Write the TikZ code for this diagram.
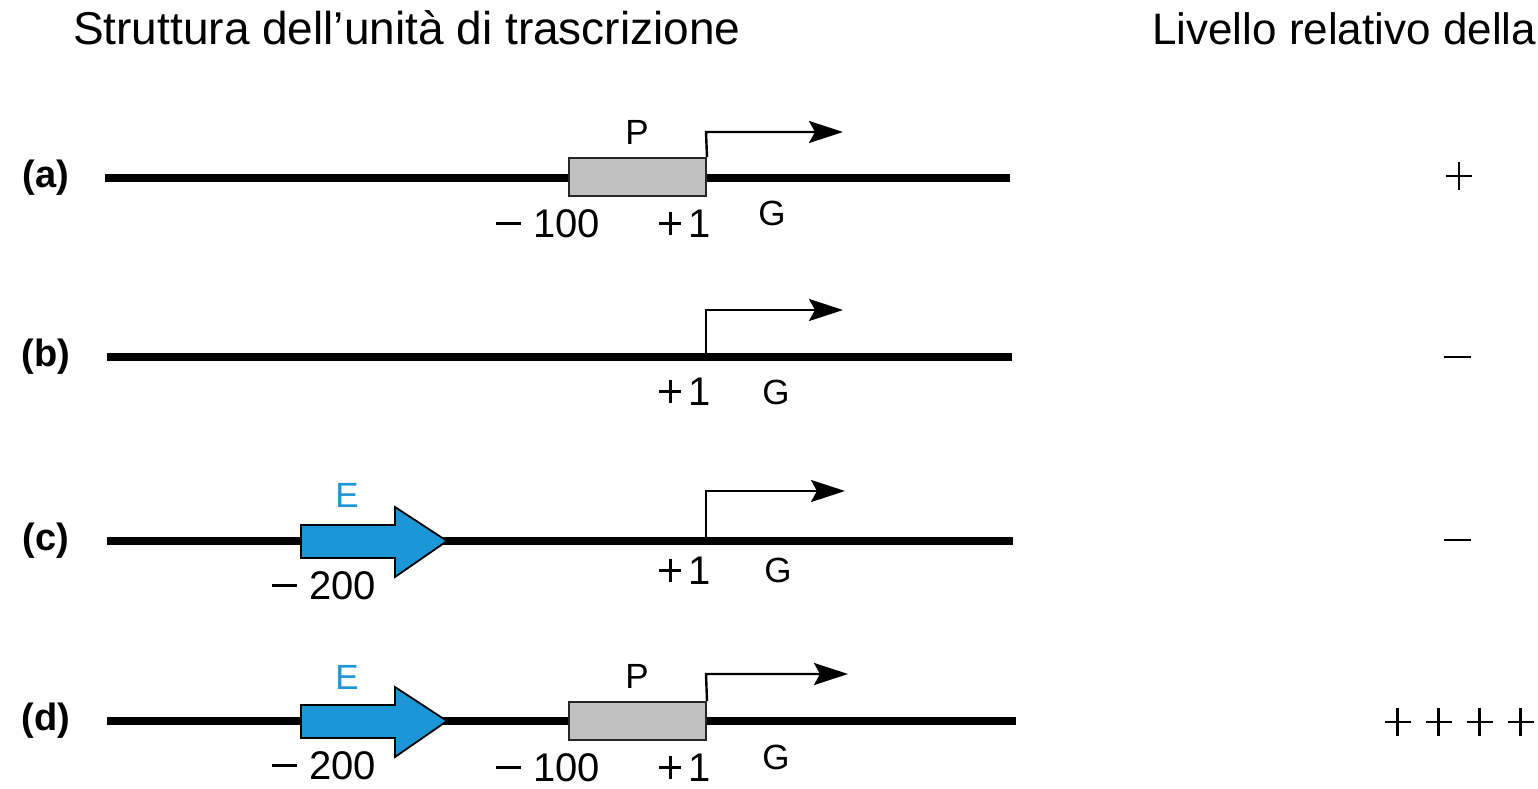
\documentclass[tikz,border=0pt]{standalone}
\usepackage{fontspec}
\setmainfont{Liberation Sans}
\usetikzlibrary{arrows.meta}
\definecolor{eblue}{RGB}{28,150,214}
\definecolor{pgray}{RGB}{192,192,192}
\tikzset{
  dna/.style={line width=8.5pt},
  pbox/.style={draw=black!85, line width=2pt, fill=pgray},
  tss/.style={line width=2.4pt, line join=miter, -{Stealth[length=34pt,width=22pt,inset=6pt]}},
  enh/.style={draw=black, line width=1.8pt, fill=eblue, line join=miter},
  title/.style={font=\fontsize{44}{46}\selectfont, anchor=base west, inner sep=0pt},
  rowlab/.style={font=\fontsize{38}{40}\selectfont\bfseries, inner sep=0pt},
  num/.style={font=\fontsize{40}{42}\selectfont, inner sep=0pt},
  gl/.style={font=\fontsize{35}{37}\selectfont, inner sep=0pt},
  lvl/.style={inner sep=0pt},
}
\newcommand{\mygminus}{\rule[13pt]{25pt}{2.6pt}}
\newcommand{\mygplus}{\makebox[22pt][l]{\rule[13pt]{22pt}{2.6pt}\hspace{-12.3pt}\rule[2.7pt]{2.6pt}{22.6pt}}}
\newcommand{\mns}{\mygminus\hspace{12pt}}
\newcommand{\pls}{\mygplus\hspace{7pt}}
\newcommand{\lvplus}{\makebox[26pt][l]{\rule[12pt]{26pt}{2.6pt}\hspace{-14.3pt}\rule[-0.3pt]{2.6pt}{27.4pt}}}
\begin{document}
\begin{tikzpicture}[x=1pt,y=-1pt]
\useasboundingbox (0,0) rectangle (1538,788);
\fill[white] (0,0) rectangle (1538,788);

\node[title, font=\fontsize{46}{48}\selectfont] (t1) at (73,44) {Struttura dell’unità di trascrizione};
\node[title] (t2) at (1152,44) {Livello relativo della};

% ---------- (a)
\node[rowlab] (la) at (46,178) {(a)};
\coordinate (a0) at (105,178); \coordinate (a1) at (1010,178);
\draw[dna] (a0) -- (a1);
\node[pbox, minimum width=137pt, minimum height=38pt, inner sep=0pt] (pa) at (637.5,177) {};
\node[gl] (Pa) at (637,132) {P};
\coordinate (ta) at (706,132);
\draw[tss] (pa.north east) -- (ta) -- (843,132);
\node[num] (ma) at (548,224) {\mns100};
\node[num] (oa) at (685,224) {\pls1};
\node[gl] (Ga) at (772,213) {G};
\node[lvl] (va) at (1459,176) {\lvplus};

% ---------- (b)
\node[rowlab] (lb) at (46,357) {(b)};
\coordinate (b0) at (107,357); \coordinate (b1) at (1012,357);
\draw[dna] (b0) -- (b1);
\coordinate (sb) at (706,357);
\coordinate (tb) at (706,310);
\draw[tss] (sb) -- (tb) -- (843,310);
\node[num] (ob) at (685,392) {\pls1};
\node[gl] (Gb) at (776,392) {G};
\node[lvl] (vb) at (1457,357) {\rule{27pt}{2.6pt}};

% ---------- (c)
\node[rowlab] (lc) at (46,541) {(c)};
\coordinate (c0) at (107,541); \coordinate (c1) at (1013,541);
\draw[dna] (c0) -- (c1);
\draw[enh] (301,525) -- (395,525) -- (395,507) -- (447,541) -- (395,577) -- (395,558) -- (301,558) -- cycle;
\node[gl, text=eblue] (Ec) at (347,495) {E};
\node[num] (mc) at (324,586) {\mns200};
\coordinate (sc) at (706,541);
\coordinate (tc) at (706,491);
\draw[tss] (sc) -- (tc) -- (845,491);
\node[num] (oc) at (685,571) {\pls1};
\node[gl] (Gc) at (778,570) {G};
\node[lvl] (vc) at (1457,540) {\rule{27pt}{2.6pt}};

% ---------- (d)
\node[rowlab] (ld) at (46,721) {(d)};
\coordinate (d0) at (107,721); \coordinate (d1) at (1016,721);
\draw[dna] (d0) -- (d1);
\draw[enh] (301,705) -- (395,705) -- (395,687) -- (447,721) -- (395,757) -- (395,738) -- (301,738) -- cycle;
\node[gl, text=eblue] (Ed) at (347,677) {E};
\node[num] (md) at (324,766) {\mns200};
\node[pbox, minimum width=137pt, minimum height=38pt, inner sep=0pt] (pd) at (637.5,721) {};
\node[gl] (Pd) at (637,676) {P};
\coordinate (td) at (706,674);
\draw[tss] (pd.north east) -- (td) -- (848,674);
\node[num] (mdd) at (548,768) {\mns100};
\node[num] (od) at (685,768) {\pls1};
\node[gl] (Gd) at (776,757) {G};
\node[lvl] (vd) at (1459,722) {\lvplus\hspace{15pt}\lvplus\hspace{15pt}\lvplus\hspace{15pt}\lvplus};
\end{tikzpicture}
\end{document}
